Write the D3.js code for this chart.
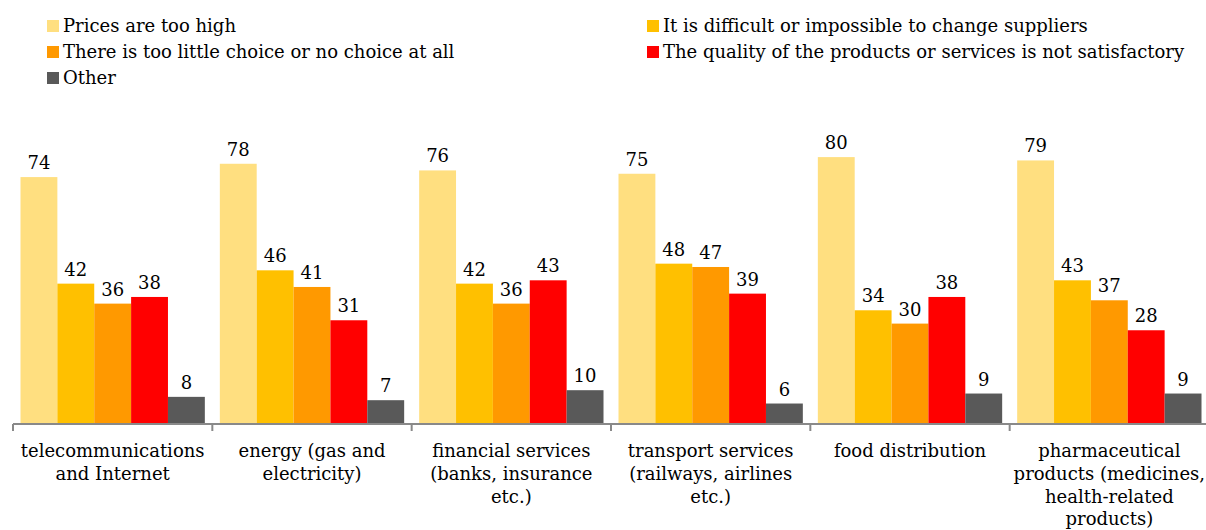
<!DOCTYPE html>
<html>
<head>
<meta charset="utf-8">
<script src="https://cdn.jsdelivr.net/npm/d3@7"></script>
<style>
  html, body { margin: 0; padding: 0; background: #fff; }
  svg { display: block; }
  text { font-family: "DejaVu Serif", Georgia, serif; fill: #000; }
</style>
</head>
<body>
<svg id="chart" width="1206" height="530"></svg>
<script>
// Sectors (x-axis categories), each split into the lines shown under the axis
const categories = [
  "telecommunications and Internet",
  "energy (gas and electricity)",
  "financial services (banks, insurance etc.)",
  "transport services (railways, airlines etc.)",
  "food distribution",
  "pharmaceutical products (medicines, health-related products)"
];
const categoryLines = [
  ["telecommunications", "and Internet"],
  ["energy (gas and", "electricity)"],
  ["financial services", "(banks, insurance", "etc.)"],
  ["transport services", "(railways, airlines", "etc.)"],
  ["food distribution"],
  ["pharmaceutical", "products (medicines,", "health-related", "products)"]
];

// Reasons (series)
const seriesNames = [
  "Prices are too high",
  "It is difficult or impossible to change suppliers",
  "There is too little choice or no choice at all",
  "The quality of the products or services is not satisfactory",
  "Other"
];
const seriesColors = ["#FFDF80", "#FFC000", "#FF9900", "#FF0000", "#595959"];

// Share of respondents (%) per sector, one array per reason
const pricesTooHigh      = [74, 78, 76, 75, 80, 79];
const hardToChange       = [42, 46, 42, 48, 34, 43];
const tooLittleChoice    = [36, 41, 36, 47, 30, 37];
const qualityNotOk       = [38, 31, 43, 39, 38, 28];
const otherReason        = [8, 7, 10, 6, 9, 9];
const seriesValues = [pricesTooHigh, hardToChange, tooLittleChoice, qualityNotOk, otherReason];

const svg = d3.select("#chart");

const baseY = 423.5;
const x0 = d3.scaleBand().domain(d3.range(categories.length)).range([13, 1209]).paddingInner(0).paddingOuter(0);
const x1 = d3.scaleBand().domain(d3.range(seriesNames.length)).range([7.5, x0.bandwidth() - 7.5]).padding(0);
const y = d3.scaleLinear().domain([0, 90]).range([baseY, baseY - 90 * 3.33]);

// Bars
const groups = svg.append("g").selectAll("g")
  .data(categories)
  .join("g")
  .attr("transform", (d, i) => `translate(${x0(i)},0)`);

groups.selectAll("rect")
  .data((d, i) => seriesValues.map((vals, s) => ({ s, v: vals[i] })))
  .join("rect")
  .attr("x", d => x1(d.s))
  .attr("width", x1.bandwidth())
  .attr("y", d => y(d.v))
  .attr("height", d => y(0) - y(d.v))
  .attr("fill", d => seriesColors[d.s]);

// Value labels above bars
groups.selectAll("text.val")
  .data((d, i) => seriesValues.map((vals, s) => ({ s, v: vals[i] })))
  .join("text")
  .attr("class", "val")
  .attr("x", d => x1(d.s) + x1.bandwidth() / 2)
  .attr("y", d => y(d.v) - 8)
  .attr("text-anchor", "middle")
  .style("font-size", "18px")
  .text(d => d.v);

// Category axis
const axis = d3.axisBottom(x0)
  .tickSize(7)
  .tickFormat("");
const axisG = svg.append("g")
  .attr("transform", `translate(0,${baseY + 0.5})`)
  .call(axis);
axisG.select(".domain").attr("stroke", "#898989").attr("stroke-width", 2).attr("d", `M13,0H1206`);
axisG.selectAll(".tick").attr("transform", (d) => `translate(${x0(d)},0)`);
axisG.selectAll(".tick line").attr("stroke", "#898989").attr("stroke-width", 2);

// Multi-line category labels
const labels = svg.append("g").selectAll("text")
  .data(categoryLines)
  .join("text")
  .attr("text-anchor", "middle")
  .attr("x", (d, i) => x0(i) + x0.bandwidth() / 2)
  .attr("y", 457)
  .style("font-size", "18px");
labels.selectAll("tspan")
  .data(d => d)
  .join("tspan")
  .attr("x", function () { return this.parentNode.getAttribute("x"); })
  .attr("dy", (d, j) => j === 0 ? 0 : 22.8)
  .text(d => d);

// Legend: two columns, filled row by row
const legendPos = [
  [47, 26], [647, 26],
  [47, 52], [647, 52],
  [47, 78]
];
const legend = svg.append("g").selectAll("g")
  .data(seriesNames)
  .join("g")
  .attr("transform", (d, i) => `translate(${legendPos[i][0]},${legendPos[i][1]})`);
legend.append("rect")
  .attr("x", 0).attr("y", -6).attr("width", 12).attr("height", 12)
  .attr("fill", (d, i) => seriesColors[i]);
legend.append("text")
  .attr("x", 16).attr("y", 6)
  .style("font-size", "18px")
  .text(d => d);
</script>
</body>
</html>
